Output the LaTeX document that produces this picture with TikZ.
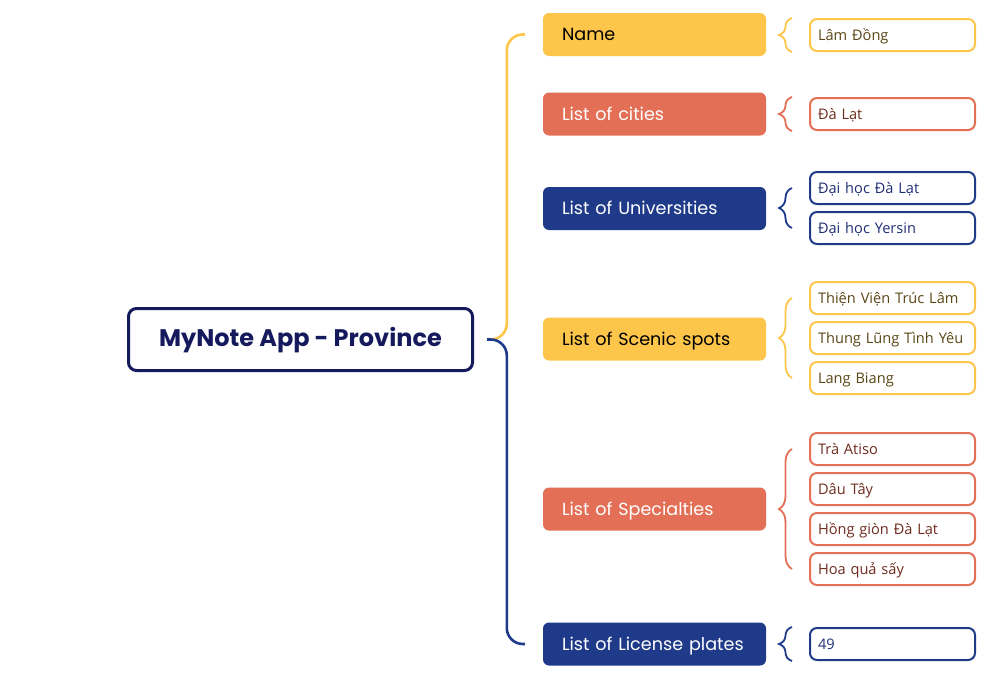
\documentclass[tikz,border=0pt]{standalone}
\usepackage{fontspec}
\setmainfont{Poppins}
\newfontfamily\leaffont{Open Sans}
\usetikzlibrary{decorations.pathreplacing}

\definecolor{provgold}{HTML}{FDC64B}
\definecolor{provcoral}{HTML}{E36F56}
\definecolor{provnavy}{HTML}{1F3A89}
\definecolor{rootnavy}{HTML}{151A5C}
\definecolor{goldtext}{HTML}{5B4716}
\definecolor{coraltext}{HTML}{6E2B1F}
\definecolor{navytext}{HTML}{1F2F75}

\tikzset{
  cat/.style={fill=#1, rounded corners=6pt, minimum height=43pt, text width=185pt,
    inner xsep=19pt, align=left, text height=15pt, text depth=3pt,
    font=\fontsize{17.6}{20}\selectfont},
  leaf/.style={draw=#1, line width=2pt, fill=white, rounded corners=7pt, minimum height=32pt,
    text width=149pt, inner xsep=8pt, align=left, text height=13pt, text depth=3pt,
    font=\leaffont\fontsize{14.6}{16}\selectfont},
  brc/.style={draw=#1, line width=1.8pt, decorate, decoration={brace, amplitude=13pt}},
}

\begin{document}
\begin{tikzpicture}[x=1pt,y=-1pt]
\useasboundingbox (0,0) rectangle (999,680);

% root
\node[draw=rootnavy, line width=3pt, rounded corners=8pt, minimum width=344pt, minimum height=62pt,
  text=rootnavy, text height=19pt, text depth=5pt,
  font=\bfseries\fontsize{24}{28}\selectfont] (root) at (300.5,339.5) {MyNote App - Province};

% categories
\node[cat=provgold, text=black] (name) at (654.5,34.5) {Name};
\node[cat=provcoral, text=white] (city) at (654.5,114) {List of cities};
\node[cat=provnavy, text=white] (uni) at (654.5,208.5) {List of Universities};
\node[cat=provgold, text=black] (spot) at (654.5,339) {List of Scenic spots};
\node[cat=provcoral, text=white] (spec) at (654.5,509) {List of Specialties};
\node[cat=provnavy, text=white] (lic) at (654.5,644) {List of License plates};

% big brace
\draw[provgold, line width=2.6pt, rounded corners=16pt] ([xshift=13pt]root.east) -| ([xshift=-36pt]name.west) -- ([xshift=-18pt]name.west);
\draw[provnavy, line width=2.6pt, rounded corners=16pt] ([xshift=13pt]root.east) -| ([xshift=-36pt]lic.west) -- ([xshift=-18pt]lic.west);

% leaves
\node[leaf=provgold, text=goldtext] (n1) at (892.5,35) {Lâm Đồng};
\node[leaf=provcoral, text=coraltext] (c1) at (892.5,114) {Đà Lạt};
\node[leaf=provnavy, text=navytext] (u1) at (892.5,188) {Đại học Đà Lạt};
\node[leaf=provnavy, text=navytext] (u2) at (892.5,228) {Đại học Yersin};
\node[leaf=provgold, text=goldtext] (s1) at (892.5,298) {Thiện Viện Trúc Lâm};
\node[leaf=provgold, text=goldtext] (s2) at (892.5,338) {Thung Lũng Tình Yêu};
\node[leaf=provgold, text=goldtext] (s3) at (892.5,378) {Lang Biang};
\node[leaf=provcoral, text=coraltext] (p1) at (892.5,449) {Trà Atiso};
\node[leaf=provcoral, text=coraltext] (p2) at (892.5,489) {Dâu Tây};
\node[leaf=provcoral, text=coraltext] (p3) at (892.5,529) {Hồng giòn Đà Lạt};
\node[leaf=provcoral, text=coraltext] (p4) at (892.5,569) {Hoa quả sấy};
\node[leaf=provnavy, text=navytext] (l1) at (892.5,644) {49};

% small braces
\draw[brc=provgold] ([xshift=-17pt,yshift=-17pt]n1.west) -- ([xshift=-17pt,yshift=17pt]n1.west);
\draw[brc=provcoral] ([xshift=-17pt,yshift=-17pt]c1.west) -- ([xshift=-17pt,yshift=17pt]c1.west);
\draw[brc=provnavy] ([xshift=-17pt]u2.west) -- ([xshift=-17pt]u1.west);
\draw[brc=provgold] ([xshift=-17pt]s3.west) -- ([xshift=-17pt]s1.west);
\draw[brc=provcoral] ([xshift=-17pt]p4.west) -- ([xshift=-17pt]p1.west);
\draw[brc=provnavy] ([xshift=-17pt,yshift=-17pt]l1.west) -- ([xshift=-17pt,yshift=17pt]l1.west);
\end{tikzpicture}
\end{document}
